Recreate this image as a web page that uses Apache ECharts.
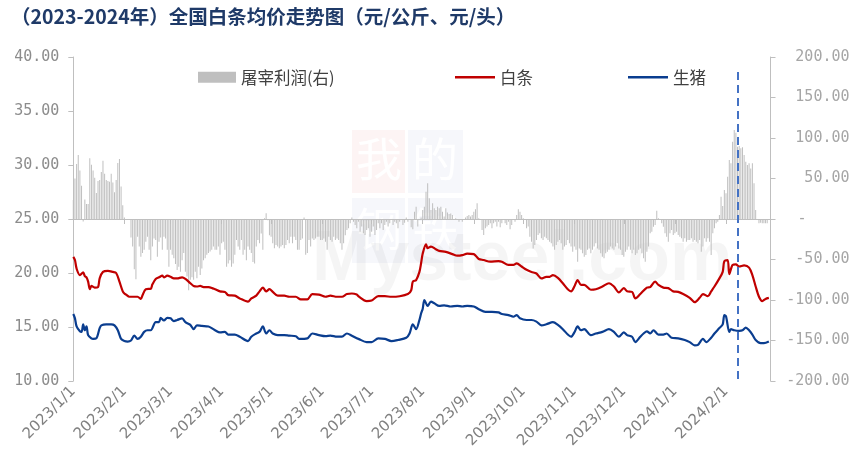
<!DOCTYPE html>
<html>
<head>
<meta charset="utf-8">
<script src="https://cdn.jsdelivr.net/npm/echarts@6/dist/echarts.min.js"></script>
<style>
html,body{margin:0;padding:0;background:#fff;}
#chart{width:864px;height:466px;}
</style>
</head>
<body>
<div id="chart"></div>
<script>
// ---------- DATA ----------
const titleText = '（2023-2024年）全国白条均价走势图（元/公斤、元/头）';
const seriesNames = ['屠宰利润(右)', '白条', '生猪'];
const startDate = '2023-01-01';
const endDate = '2024-02-28';
const leftTicks = [10, 15, 20, 25, 30, 35, 40];
const rightTicks = [-200, -150, -100, -50, 0, 50, 100, 150, 200];
const markerDate = '2024-02-08';

// 白条 (元/公斤)
const baitiao = [
['2023-01-01',21.5],['2023-01-02',21.2],['2023-01-03',20.4],['2023-01-05',19.8],['2023-01-07',20.05],['2023-01-08',19.7],
['2023-01-09',19.6],['2023-01-10',19.2],['2023-01-11',18.5],['2023-01-12',18.8],['2023-01-14',18.65],['2023-01-16',18.7],
['2023-01-17',19.5],['2023-01-19',20.1],['2023-01-22',20.2],['2023-01-25',20.1],['2023-01-27',20.0],['2023-01-29',19.2],
['2023-01-31',18.3],['2023-02-01',18.1],['2023-02-02',18.0],['2023-02-04',17.8],['2023-02-07',17.8],['2023-02-09',17.8],
['2023-02-11',17.6],['2023-02-12',17.95],['2023-02-14',18.5],['2023-02-17',18.55],['2023-02-18',18.95],['2023-02-20',19.45],
['2023-02-22',19.6],['2023-02-24',19.75],['2023-02-25',19.6],['2023-02-27',19.75],['2023-03-01',19.65],['2023-03-03',19.5],
['2023-03-05',19.5],['2023-03-08',19.6],['2023-03-10',19.45],['2023-03-13',19.05],['2023-03-15',18.8],['2023-03-17',18.75],
['2023-03-19',18.8],['2023-03-21',18.7],['2023-03-24',18.7],['2023-03-27',18.55],['2023-03-28',18.5],['2023-03-31',18.3],
['2023-04-03',18.25],['2023-04-05',17.95],['2023-04-09',17.9],['2023-04-12',17.65],['2023-04-17',17.35],['2023-04-19',17.65],
['2023-04-22',17.9],['2023-04-24',18.3],['2023-04-26',18.65],['2023-04-28',18.3],['2023-04-30',18.5],['2023-05-02',18.25],
['2023-05-05',17.9],['2023-05-09',17.9],['2023-05-12',17.8],['2023-05-16',17.8],['2023-05-19',17.55],['2023-05-23',17.55],
['2023-05-26',18.05],['2023-05-30',18.0],['2023-06-03',17.8],['2023-06-06',17.9],['2023-06-10',17.8],['2023-06-13',17.8],
['2023-06-16',18.05],['2023-06-19',18.1],['2023-06-22',18.0],['2023-06-23',17.85],['2023-06-28',17.4],['2023-07-01',17.45],
['2023-07-05',17.85],['2023-07-09',17.85],['2023-07-13',17.8],['2023-07-18',17.85],['2023-07-23',18.05],['2023-07-25',18.4],
['2023-07-26',19.2],['2023-07-28',19.35],['2023-07-30',20.1],['2023-07-31',20.9],['2023-08-01',21.8],['2023-08-03',22.65],
['2023-08-04',22.3],['2023-08-06',22.45],['2023-08-09',22.2],['2023-08-11',22.05],['2023-08-15',21.95],['2023-08-19',21.75],
['2023-08-22',21.6],['2023-08-25',21.65],['2023-08-28',21.8],['2023-09-01',21.75],['2023-09-04',21.3],['2023-09-07',21.2],
['2023-09-11',21.05],['2023-09-16',21.1],['2023-09-18',21.05],['2023-09-22',20.75],['2023-09-25',20.75],['2023-09-27',20.9],
['2023-09-30',20.6],['2023-10-03',20.3],['2023-10-06',20.1],['2023-10-09',19.95],['2023-10-12',19.5],['2023-10-15',19.65],
['2023-10-17',19.65],['2023-10-19',19.8],['2023-10-22',19.55],['2023-10-25',19.05],['2023-10-28',18.5],['2023-10-30',18.3],
['2023-11-01',18.75],['2023-11-03',19.35],['2023-11-05',18.9],['2023-11-07',18.9],['2023-11-11',18.45],['2023-11-14',18.5],
['2023-11-18',18.75],['2023-11-22',19.05],['2023-11-25',18.75],['2023-11-28',18.2],['2023-12-01',18.6],['2023-12-03',18.3],
['2023-12-06',18.25],['2023-12-08',17.65],['2023-12-11',18.05],['2023-12-15',18.65],['2023-12-17',18.7],['2023-12-20',19.2],
['2023-12-22',18.9],['2023-12-25',18.65],['2023-12-28',18.6],['2023-12-31',18.3],['2024-01-03',18.25],['2024-01-06',18.05],
['2024-01-10',17.7],['2024-01-13',17.3],['2024-01-16',17.7],['2024-01-18',18.05],['2024-01-21',17.85],['2024-01-23',18.3],
['2024-01-25',18.75],['2024-01-28',19.5],['2024-01-30',20.1],['2024-01-31',21.1],['2024-02-02',21.2],['2024-02-03',19.9],
['2024-02-05',20.75],['2024-02-07',20.8],['2024-02-09',20.6],['2024-02-12',20.7],['2024-02-15',20.5],['2024-02-17',19.8],
['2024-02-19',18.75],['2024-02-21',17.8],['2024-02-23',17.4],['2024-02-25',17.6],['2024-02-27',17.7]
];

// 生猪 (元/公斤)
const shengzhu = [
['2023-01-01',16.2],['2023-01-02',15.8],['2023-01-03',15.05],['2023-01-05',14.6],['2023-01-06',14.55],['2023-01-07',15.25],
['2023-01-08',14.7],['2023-01-09',15.05],['2023-01-10',14.25],['2023-01-12',13.95],['2023-01-13',13.9],['2023-01-15',13.95],
['2023-01-17',14.9],['2023-01-18',15.15],['2023-01-21',15.25],['2023-01-24',15.25],['2023-01-26',15.15],['2023-01-28',14.7],
['2023-01-30',13.9],['2023-02-01',13.7],['2023-02-03',13.65],['2023-02-05',13.75],['2023-02-07',14.2],['2023-02-09',13.9],
['2023-02-11',14.1],['2023-02-13',14.55],['2023-02-15',14.7],['2023-02-17',14.7],['2023-02-20',15.45],['2023-02-22',15.45],
['2023-02-23',15.85],['2023-02-25',15.6],['2023-02-27',15.85],['2023-03-01',15.8],['2023-03-03',15.55],['2023-03-05',15.65],
['2023-03-08',15.8],['2023-03-10',15.45],['2023-03-13',15.2],['2023-03-15',14.8],['2023-03-17',15.15],['2023-03-20',15.1],
['2023-03-24',15.05],['2023-03-27',14.8],['2023-03-28',14.7],['2023-03-31',14.5],['2023-04-03',14.55],['2023-04-05',14.3],
['2023-04-09',14.3],['2023-04-12',14.1],['2023-04-17',13.7],['2023-04-19',14.1],['2023-04-22',14.4],['2023-04-24',14.55],
['2023-04-26',15.05],['2023-04-28',14.4],['2023-04-30',14.7],['2023-05-02',14.4],['2023-05-05',14.25],['2023-05-09',14.25],
['2023-05-12',14.2],['2023-05-16',14.15],['2023-05-18',13.9],['2023-05-23',13.95],['2023-05-26',14.4],['2023-05-30',14.25],
['2023-06-03',14.15],['2023-06-06',14.2],['2023-06-10',14.1],['2023-06-13',14.1],['2023-06-16',14.4],['2023-06-19',14.2],
['2023-06-22',13.95],['2023-06-23',13.9],['2023-06-28',13.6],['2023-07-01',13.6],['2023-07-05',13.95],['2023-07-09',13.9],
['2023-07-13',13.7],['2023-07-17',13.8],['2023-07-22',14.0],['2023-07-24',14.4],['2023-07-26',15.25],['2023-07-28',14.8],
['2023-07-30',15.65],['2023-07-31',16.25],['2023-08-01',16.7],['2023-08-02',17.5],['2023-08-04',16.95],['2023-08-06',17.35],
['2023-08-08',17.2],['2023-08-11',16.95],['2023-08-14',17.0],['2023-08-18',16.9],['2023-08-22',16.95],['2023-08-25',16.9],
['2023-08-28',16.95],['2023-09-01',16.9],['2023-09-04',16.65],['2023-09-08',16.4],['2023-09-12',16.4],['2023-09-16',16.35],
['2023-09-18',16.2],['2023-09-22',16.1],['2023-09-25',15.95],['2023-09-27',16.1],['2023-09-29',15.8],['2023-10-03',15.65],
['2023-10-06',15.65],['2023-10-09',15.5],['2023-10-12',15.15],['2023-10-15',15.25],['2023-10-19',15.45],['2023-10-22',15.2],
['2023-10-25',14.8],['2023-10-28',14.3],['2023-10-30',14.1],['2023-11-01',14.5],['2023-11-03',15.05],['2023-11-05',14.7],
['2023-11-07',14.8],['2023-11-11',14.25],['2023-11-14',14.4],['2023-11-18',14.55],['2023-11-22',14.8],['2023-11-25',14.55],
['2023-11-28',14.1],['2023-12-01',14.5],['2023-12-03',14.25],['2023-12-06',14.1],['2023-12-08',13.6],['2023-12-11',14.1],
['2023-12-13',14.4],['2023-12-15',14.6],['2023-12-17',14.4],['2023-12-19',14.7],['2023-12-22',14.3],['2023-12-25',14.3],
['2023-12-27',14.4],['2023-12-30',14.0],['2024-01-03',13.95],['2024-01-07',13.8],['2024-01-10',13.6],['2024-01-13',13.3],
['2024-01-15',13.35],['2024-01-18',13.9],['2024-01-20',13.6],['2024-01-23',14.0],['2024-01-25',14.4],['2024-01-28',14.9],
['2024-01-30',15.25],['2024-01-31',16.1],['2024-02-01',16.0],['2024-02-03',14.55],['2024-02-04',14.8],['2024-02-06',14.7],
['2024-02-09',14.65],['2024-02-11',14.7],['2024-02-13',14.95],['2024-02-15',14.7],['2024-02-17',14.3],['2024-02-19',13.8],
['2024-02-22',13.5],['2024-02-24',13.5],['2024-02-27',13.65]
];

// 屠宰利润 (元/头), one value per calendar day starting 2023-01-01
const profit = [
23.5,50,68,79,60,41,-3,24,18.5,18.5,75,67,60,51,32,47,48,58,72,56,48,47,46,56,45,33,48,69,74,40,17,2,
null,null,null,
-22.7,-34,-62,-74.5,-22,-34,-46.5,-42,-38,-28,
-22,-38,-51,-34,-24,-26,-46.5,-28,-22.7,-38,
-22,-24,-38,-59,-38,-44,-48.5,-55.6,-63,-59,
-65,-51,-42,-65,-71,-88,-75,-72,-75,-65,
-73,-59,-69,-61,-51,-48.5,-44,-42,-40,-38,
-34,-38,-38,-34,-44,-30,-28,-38,-59,-55,
-51,-59,-55,-44,-26,-34,-38,-26,-44,-38,
-51,-34,-38,-42,-53,-55,-34,-26,-30,-18,
-38,1,7,-1.5,-20,-22,-30,-36,-32,-34,
-36,-34,-32,-36,-32,-26,-30,-22,-30,-22,
-26,-38,-38,-26,-24,2,-44,-42,-26,-34,
-24,-26,-24,-22,-22,-26,-26,-24,-28,-38,
-22,-26,-28,-22,-26,-24,-26,-30,-38,-30,
-20,-13.6,-11.5,-5.3,2,-3.3,
-7.5,-11.5,-3.3,
-15.6,-9.3,-17.7,-19.7,-13.6,-11.5,-21.9,-15.6,-9.3,-19.7,
-13.6,-5.3,-11.5,-5.3,-13.6,-7.5,-3.3,-9.3,-5.3,-1.3,
-7.5,-3.3,-5.3,-11.5,-3.3,-1.3,-7.5,-4.5,2,-3.3,
-1.3,-10.3,-12.8,9,15.2,-9.3,-1.3,2,11,15.2,
33.7,44,25.5,11,19.3,13.2,11,15.2,13.2,15.2,
9,3,13.2,7.9,6.1,6.9,4.9,-1.3,0.8,-1.3,
-3.3,-1.3,-3.3,-0.4,2,3.7,4.9,3,4.9,9,
12,19.3,0.8,-1.3,-13.6,-19.7,-11.5,-9.3,-7.5,-5.3,
-11.5,-5.3,-3.3,-9.3,-3.3,-10.3,-5.3,-1.3,-5.3,-7.5,
-3.3,-12.8,-7.5,-1.3,-3.3,4.9,12,9,4.9,0.8,
-1.3,-11.5,-9.3,-21.9,-28,-36.3,-32,-25.9,-19.7,-17.7,
-23.9,-25.9,-21.9,-23.9,-25.9,-28,-30,-34,-38,-32,
-28,-25.9,-30,-38,-34,-32,-25.9,-30,-34,-40.4,
-34,-38,-52.7,-36.3,-38,-42.4,-46.5,-44.4,-38,-36.3,
-42.4,-38,-34,-30,-36.3,-38,-42.4,-46.5,-48.5,-42.4,
-40.4,-38,-34,-36.3,-38,-34,-30,-36.3,-38,-44.4,
-46.5,-40.4,-38,-34,-38,-42.4,-38,-44.4,-42.4,-38,
-36.3,-42.4,-48.5,-52.7,-40.4,-34,
-17.7,-15.6,-9.5,-7.5,10.3,0.8,-1.2,-5.3,-9.5,-17.7,
-21.9,-28,-17.7,-13.6,-19.7,-17.7,-15.6,-19.7,-21.9,-23.9,
-28,-23.9,-28,-25.9,-25.9,-23.9,-28,-25.9,-28,-30,
-25.9,-40.4,-34,-23.9,-28,-23.9,-28,-44.4,-17.7,-11.5,
-5.3,-3.3,4.9,27.6,16,35.9,31.7,52.3,72.8,68.8,
95.4,109.8,106.6,89.3,90.1,87.2,88.5,79,70.8,66.7,
68.8,62.5,68.8,44,11,-1.2,-5.3,-4.5,-5.3,-5.3,
-5.3,-5.3
];

// ---------- BUILD ----------
function iso(d){ return d.toISOString().slice(0,10); }
const categories = [];
for (let t = Date.parse(startDate + 'T00:00:00Z'); t <= Date.parse(endDate + 'T00:00:00Z'); t += 86400000) {
  categories.push(iso(new Date(t)));
}
const profitPairs = profit.map((v, i) => [categories[i], v]);
const isMonthStart = (idx, val) => String(val).slice(8) === '01';
const fmtDate = v => { const p = v.split('-'); return p[0] + '/' + (+p[1]) + '/' + (+p[2]); };

const chart = echarts.init(document.getElementById('chart'), null, {renderer: 'canvas'});

const legendText = {fontFamily: '"Noto Sans CJK SC", sans-serif', fontSize: 16.5, color: '#404040'};

const option = {
  backgroundColor: '#ffffff',
  animation: false,
  title: {
    text: titleText,
    left: 6, top: 2,
    textStyle: {fontFamily: '"Noto Sans CJK SC", sans-serif', fontSize: 19.5, fontWeight: 'bold', color: '#1f3a68'}
  },
  graphic: [
    {type: 'rect', shape: {x: 352, y: 130, width: 53, height: 63}, style: {fill: 'rgba(225,70,70,0.06)'}, z: -10},
    {type: 'rect', shape: {x: 408, y: 130, width: 55, height: 63}, style: {fill: 'rgba(70,90,170,0.05)'}, z: -10},
    {type: 'rect', shape: {x: 352, y: 198, width: 53, height: 65}, style: {fill: 'rgba(70,90,170,0.05)'}, z: -10},
    {type: 'rect', shape: {x: 408, y: 198, width: 55, height: 65}, style: {fill: 'rgba(70,90,170,0.05)'}, z: -10},
    {type: 'text', x: 356, y: 136, style: {text: '我', font: '46px "Noto Sans CJK SC"', fill: 'rgba(255,255,255,0.95)'}, z: -9},
    {type: 'text', x: 412, y: 136, style: {text: '的', font: '46px "Noto Sans CJK SC"', fill: 'rgba(255,255,255,0.95)'}, z: -9},
    {type: 'text', x: 356, y: 206, style: {text: '钢', font: '46px "Noto Sans CJK SC"', fill: 'rgba(255,255,255,0.95)'}, z: -9},
    {type: 'text', x: 412, y: 206, style: {text: '铁', font: '46px "Noto Sans CJK SC"', fill: 'rgba(255,255,255,0.95)'}, z: -9},
    {type: 'text', x: 312, y: 226, style: {text: 'Mysteel.com', font: 'bold 70px "Liberation Sans"', fill: 'rgba(0,0,0,0.04)'}, z: -9}
  ],
  legend: [
    {data: [{name: seriesNames[0], icon: 'rect'}], left: 198, top: 69, padding: 0, itemWidth: 38, itemHeight: 11, itemGap: 5, textStyle: legendText},
    {data: [{name: seriesNames[1], icon: 'rect'}], left: 455, top: 69, padding: 0, itemWidth: 40, itemHeight: 2.5, itemGap: 5, textStyle: legendText},
    {data: [{name: seriesNames[2], icon: 'rect'}], left: 628, top: 69, padding: 0, itemWidth: 40, itemHeight: 2.5, itemGap: 5, textStyle: legendText}
  ],
  grid: {left: 73.3, right: 93.5, top: 57, bottom: 85, containLabel: false},
  xAxis: {
    type: 'category',
    data: categories,
    boundaryGap: false,
    axisLine: {lineStyle: {color: '#bfbfbf', width: 1}},
    axisTick: {show: true, interval: isMonthStart, length: 5, lineStyle: {color: '#bfbfbf'}},
    axisLabel: {
      interval: isMonthStart, rotate: 45, margin: 8,
      formatter: fmtDate,
      fontFamily: '"DejaVu Sans", sans-serif', fontSize: 15, color: '#808080'
    },
    splitLine: {show: false}
  },
  yAxis: [
    {
      type: 'value', min: leftTicks[0], max: leftTicks[leftTicks.length - 1], interval: 5,
      axisLine: {show: true, lineStyle: {color: '#bfbfbf'}},
      axisTick: {show: true, length: 5, lineStyle: {color: '#bfbfbf'}},
      axisLabel: {margin: 14, formatter: v => v.toFixed(2), fontFamily: '"DejaVu Sans Mono", monospace', fontSize: 15, color: '#8c8c8c'},
      splitLine: {show: false}
    },
    {
      type: 'value', min: rightTicks[0], max: rightTicks[rightTicks.length - 1], interval: 50,
      position: 'right',
      axisLine: {show: true, lineStyle: {color: '#bfbfbf'}},
      axisTick: {show: true, length: 5, lineStyle: {color: '#bfbfbf'}},
      axisLabel: {
        margin: 79, align: 'right',
        formatter: v => v === 0 ? '{z|-}' : v.toFixed(2),
        rich: {z: {width: 52, align: 'left', fontFamily: '"DejaVu Sans Mono", monospace', fontSize: 15, color: '#a6a6a6'}},
        fontFamily: '"DejaVu Sans Mono", monospace', fontSize: 15, color: '#a6a6a6'
      },
      splitLine: {show: false}
    }
  ],
  series: [
    {
      name: seriesNames[0], type: 'bar', yAxisIndex: 1, data: profitPairs,
      barWidth: 1, itemStyle: {color: '#bfbfbf'}, z: 1
    },
    {
      name: seriesNames[1], type: 'line', yAxisIndex: 0, data: baitiao,
      symbol: 'none', smooth: 0.3, connectNulls: true,
      lineStyle: {color: '#c00000', width: 2.2}, itemStyle: {color: '#c00000'}, z: 3,
      markLine: {
        silent: true, symbol: ['none', 'none'], label: {show: false},
        lineStyle: {color: '#4472c4', width: 2, type: [8, 5]},
        data: [[{coord: [categories.indexOf(markerDate), 38.6]}, {coord: [categories.indexOf(markerDate), 10]}]]
      }
    },
    {
      name: seriesNames[2], type: 'line', yAxisIndex: 0, data: shengzhu,
      symbol: 'none', smooth: 0.3, connectNulls: true,
      lineStyle: {color: '#0a3d8f', width: 2.2}, itemStyle: {color: '#0a3d8f'}, z: 3
    }
  ]
};
chart.setOption(option);
</script>
</body>
</html>
